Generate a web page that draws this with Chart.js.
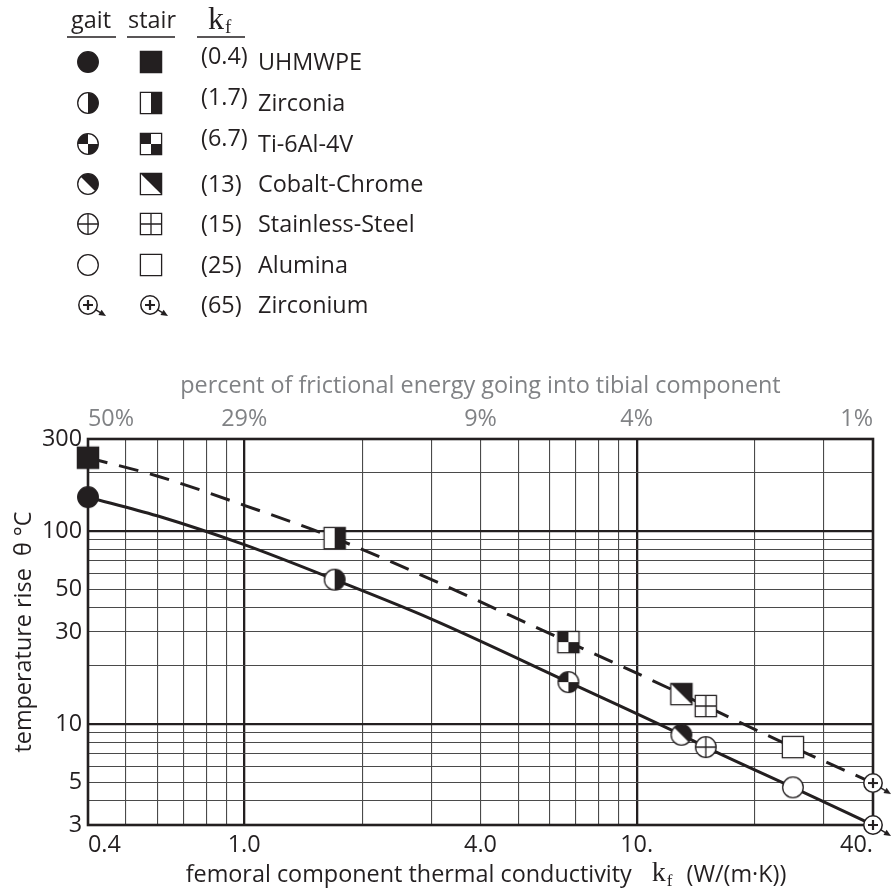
<!DOCTYPE html>
<html><head><meta charset="utf-8">
<script src="https://cdn.jsdelivr.net/npm/chart.js@4.4.1/dist/chart.umd.min.js"></script>
<style>html,body{margin:0;padding:0;background:#fff;} #wrap{position:relative;width:892px;height:893px;}</style>
</head><body><div id="wrap"><canvas id="c" width="892" height="893"></canvas></div>
<script>
// ---------------- data ----------------
const materials   = ['UHMWPE', 'Zirconia', 'Ti-6Al-4V', 'Cobalt-Chrome', 'Stainless-Steel', 'Alumina', 'Zirconium'];
const kfText      = ['(0.4)', '(1.7)', '(6.7)', '(13)', '(15)', '(25)', '(65)'];
// Zirconium (k = 65) is drawn on the right edge (k = 40) with an arrow, as in the figure
const kfPlotted   = [0.4, 1.7, 6.7, 13, 15, 25, 40];
const gaitRise    = [150, 56, 16.5, 8.8, 7.6, 4.7, 3.0];
const stairRise   = [240, 92, 26.6, 14.3, 12.4, 7.6, 4.95];
// points
const gaitCurveK  = [0.4, 0.6, 1.0, 1.7, 3.0, 6.7, 13, 15, 25, 40];
const gaitCurveT  = [150, 120, 85, 56, 35, 16.5, 8.8, 7.6, 4.7, 3.0];
const stairCurveK = [0.4, 0.6, 1.0, 1.7, 6.7, 13, 15, 25, 40];
const stairCurveT = [240, 193, 136, 92, 26.6, 14.3, 12.4, 7.6, 4.95];
// axes
const xGridValues   = [0.4, 0.5, 0.6, 0.7, 0.8, 0.9, 1, 2, 3, 4, 5, 6, 7, 8, 9, 10, 20, 30, 40];
const xLabelValues  = [0.4, 1, 4, 10, 40];
const xLabelTexts   = ['0.4', '1.0', '4.0', '10.', '40.'];
const topLabelTexts = ['50%', '29%', '9%', '4%', '1%'];
const yGridValues   = [3, 4, 5, 6, 7, 8, 9, 10, 20, 30, 40, 50, 60, 70, 80, 90, 100, 200, 300];
const yLabelValues  = [3, 5, 10, 30, 50, 100, 300];
const majorX = [1, 10];
const majorY = [10, 100];
const markerFills = ['full', 'half', 'quad', 'diag', 'cross', 'open', 'zr'];

// ---------------- style ----------------
const INK = '#231f20', GRAY = '#808285', MINOR = '#4a4a4a';
const FAM = "'Open Sans', sans-serif";
const FS = 23.4;
const SERIF = "'Liberation Serif', 'DejaVu Serif', serif";

function markerCanvas(shape, fill) {
  if (fill === 'zr') return zrCanvas();
  const S = 26, c = S / 2, r = shape === 'circle' ? 10.3 : 10.6;
  const cv = document.createElement('canvas'); cv.width = cv.height = S;
  const g = cv.getContext('2d');
  const path = () => { g.beginPath(); if (shape === 'circle') g.arc(c, c, r, 0, 2 * Math.PI); else g.rect(c - r, c - r, 2 * r, 2 * r); };
  path(); g.fillStyle = '#fff'; g.fill();
  g.save(); path(); g.clip(); g.fillStyle = INK; g.strokeStyle = INK; g.lineWidth = 1.3;
  if (fill === 'full') g.fillRect(0, 0, S, S);
  else if (fill === 'half') g.fillRect(c, 0, S, S);
  else if (fill === 'quad') { g.fillRect(0, 0, c, c); g.fillRect(c, c, S, S); }
  else if (fill === 'diag') { g.beginPath(); g.moveTo(c - r, c - r); g.lineTo(S, c - r); g.lineTo(S, S); g.lineTo(c + r, c + r); g.closePath(); g.fill(); }
  else if (fill === 'cross') { g.beginPath(); g.moveTo(c, 0); g.lineTo(c, S); g.moveTo(0, c); g.lineTo(S, c); g.stroke(); }
  g.restore();
  path(); g.strokeStyle = INK; g.lineWidth = 1.3; g.stroke();
  return cv;
}
function zrCanvas() {
  const S = 52, c = 26, r = 9.2;
  const cv = document.createElement('canvas'); cv.width = cv.height = S;
  const g = cv.getContext('2d');
  g.strokeStyle = INK; g.fillStyle = INK;
  const dx = 18, dy = 11, L = Math.hypot(dx, dy), ux = dx / L, uy = dy / L;
  const tx = c + dx, ty = c + dy;
  g.lineWidth = 1.4;
  g.beginPath(); g.moveTo(c + ux * r, c + uy * r); g.lineTo(tx - ux * 5, ty - uy * 5); g.stroke();
  g.beginPath(); g.moveTo(tx, ty); g.lineTo(tx - ux * 7 - uy * 3, ty - uy * 7 + ux * 3); g.lineTo(tx - ux * 7 + uy * 3, ty - uy * 7 - ux * 3); g.closePath(); g.fill();
  g.beginPath(); g.arc(c, c, r, 0, 2 * Math.PI); g.fillStyle = '#fff'; g.fill(); g.lineWidth = 1.5; g.stroke();
  g.lineWidth = 2.2; g.beginPath(); g.moveTo(c - 5, c); g.lineTo(c + 5, c); g.moveTo(c, c - 5); g.lineTo(c, c + 5); g.stroke();
  return cv;
}
const gaitMarkers  = markerFills.map(f => markerCanvas('circle', f));
const stairMarkers = markerFills.map(f => markerCanvas('square', f));

// ---------------- plugins ----------------
const framePlugin = {
  id: 'frame',
  beforeDatasetsDraw(chart) {
    const a = chart.chartArea, g = chart.ctx;
    g.save(); g.strokeStyle = INK; g.lineWidth = 2.6;
    g.strokeRect(a.left, a.top, a.right - a.left, a.bottom - a.top);
    g.restore();
  }
};
const legendPlugin = {
  id: 'matLegend',
  afterDraw(chart) {
    const g = chart.ctx;
    g.save();
    g.fillStyle = INK; g.strokeStyle = INK; g.textBaseline = 'alphabetic';
    g.font = `${FS}px ${FAM}`; g.textAlign = 'center';
    g.fillText('gait', 91, 28); g.fillText('stair', 152, 28);
    g.font = `32px ${SERIF}`; g.textAlign = 'left'; g.fillText('k', 208, 29);
    g.font = `19px ${SERIF}`; g.fillText('f', 225, 33);
    g.lineWidth = 1.6; g.beginPath();
    g.moveTo(67, 37); g.lineTo(116, 37); g.moveTo(127, 37); g.lineTo(175, 37); g.moveTo(197, 37); g.lineTo(245, 37); g.stroke();
    const rowY = [62, 103, 144, 184, 224, 265, 305];
    materials.forEach((m, i) => {
      const y = rowY[i];
      const a = gaitMarkers[i], b = stairMarkers[i];
      g.drawImage(a, 88 - a.width / 2, y - a.height / 2);
      g.drawImage(b, (i === 6 ? 150 : 151) - b.width / 2, y - b.height / 2);
      g.font = `${FS}px ${FAM}`; g.textAlign = 'left';
      g.fillText(kfText[i], 201, y + (i < 3 ? 2 : 8));
      g.fillText(m, 258, y + 8);
    });
    g.restore();
  }
};
const xTitlePlugin = {
  id: 'xTitle',
  afterDraw(chart) {
    const g = chart.ctx;
    g.save(); g.fillStyle = INK; g.textBaseline = 'alphabetic'; g.textAlign = 'left';
    const t1 = 'femoral component thermal conductivity', t2 = '(W/(m·K))';
    const f1 = `${FS}px ${FAM}`, fk = `28px ${SERIF}`, ff = `17px ${SERIF}`;
    g.font = f1; const w1 = g.measureText(t1).width, w2 = g.measureText(t2).width;
    g.font = fk; const wk = g.measureText('k').width;
    g.font = ff; const wf = g.measureText('f').width;
    const gapA = 20, gapB = 14;
    const total = w1 + gapA + wk + 1 + wf + gapB + w2;
    let x = 486 - total / 2; const base = 882;
    g.font = f1; g.fillText(t1, x, base); x += w1 + gapA;
    g.font = fk; g.fillText('k', x, base - 1); x += wk + 1;
    g.font = ff; g.fillText('f', x, base + 4); x += wf + gapB;
    g.font = f1; g.fillText(t2, x, base);
    g.restore();
  }
};

// ---------------- chart ----------------
const pts = (xs, ys) => xs.map((x, i) => ({ x, y: ys[i] }));
const gridOpts = (majors) => ({
  drawTicks: false,
  color: c => (c.tick && majors.includes(c.tick.value)) ? INK : MINOR,
  lineWidth: c => (c.tick && majors.includes(c.tick.value)) ? 2.3 : 1.1
});
const font = { family: FAM, size: FS };

new Chart(document.getElementById('c'), {
  type: 'scatter',
  data: {
    datasets: [
      { label: 'gait', data: pts(kfPlotted, gaitRise), pointStyle: gaitMarkers, pointRadius: 11, showLine: false, order: 0, clip: false },
      { label: 'stair', data: pts(kfPlotted, stairRise), pointStyle: stairMarkers, pointRadius: 11, showLine: false, order: 0, clip: false },
      { label: 'gait curve', data: pts(gaitCurveK, gaitCurveT), showLine: true, borderColor: INK, borderWidth: 3, pointRadius: 0, cubicInterpolationMode: 'monotone', order: 2 },
      { label: 'stair curve', data: pts(stairCurveK, stairCurveT), showLine: true, borderColor: INK, borderWidth: 3, borderDash: [20, 12], pointRadius: 0, cubicInterpolationMode: 'monotone', order: 2 }
    ]
  },
  options: {
    responsive: false, animation: false, events: [],
    layout: { padding: { left: 0, right: 19, top: 360, bottom: 0 } },
    plugins: { legend: { display: false }, tooltip: { enabled: false } },
    scales: {
      x: {
        type: 'logarithmic', position: 'bottom', min: 0.4, max: 40,
        afterBuildTicks: s => { s.ticks = xGridValues.map(v => ({ value: v })); },
        afterFit: s => { s.height = 68; },
        ticks: { autoSkip: false, maxRotation: 0, minRotation: 0, align: 'inner', padding: 6, color: INK, font,
          callback: v => { const i = xLabelValues.indexOf(v); return i >= 0 ? xLabelTexts[i] : ''; } },
        grid: gridOpts(majorX), border: { display: false }
      },
      x2: {
        type: 'logarithmic', position: 'top', min: 0.4, max: 40,
        afterBuildTicks: s => { s.ticks = xLabelValues.map(v => ({ value: v })); },
        afterFit: s => { s.height = 79; },
        ticks: { autoSkip: false, maxRotation: 0, minRotation: 0, align: 'inner', padding: 6, color: GRAY, font,
          callback: v => topLabelTexts[xLabelValues.indexOf(v)] },
        grid: { display: false, drawTicks: false }, border: { display: false },
        title: { display: true, text: 'percent of frictional energy going into tibial component', color: GRAY, font, padding: { top: 12, bottom: 0 } }
      },
      y: {
        type: 'logarithmic', position: 'left', min: 3, max: 300,
        afterBuildTicks: s => { s.ticks = yGridValues.map(v => ({ value: v })); },
        afterFit: s => { s.width = 88; },
        ticks: { autoSkip: false, padding: 6, color: INK, font,
          callback: v => yLabelValues.includes(v) ? String(v) : '' },
        grid: gridOpts(majorY), border: { display: false },
        title: { display: true, text: 'temperature rise  θ °C', color: INK, font, padding: { top: 10, bottom: 0 } }
      }
    }
  },
  plugins: [framePlugin, legendPlugin, xTitlePlugin]
});
</script>
</body></html>
